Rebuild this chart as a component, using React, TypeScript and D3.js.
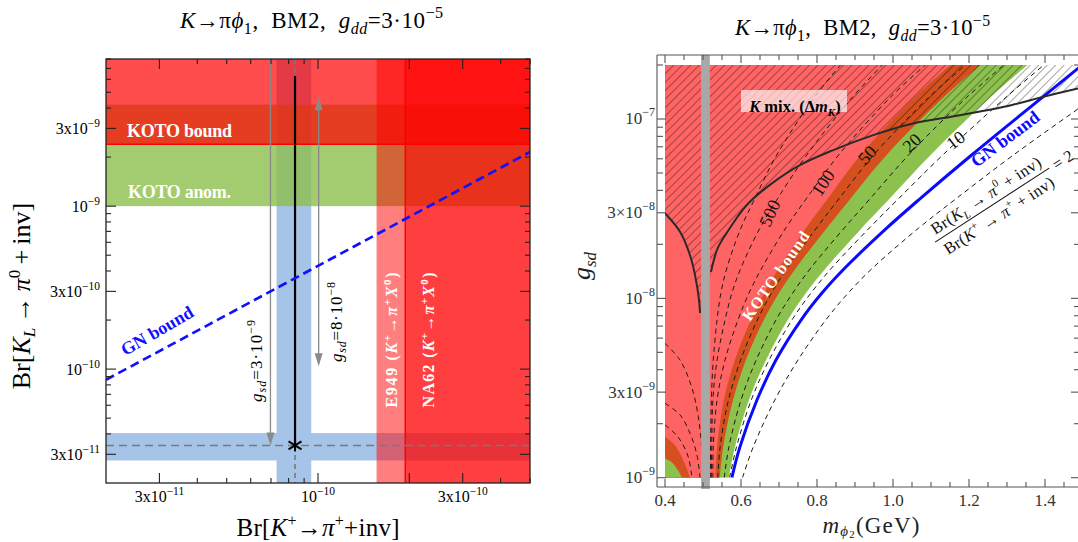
import React from "react";
import * as d3 from "d3";

// ---------- left panel: Br(K_L -> pi0 inv) vs Br(K+ -> pi+ inv) ----------
const brKpDomain = [2e-11, 5e-10];
const brKLDomain = [2e-11, 8e-9];
const brKpTicks = [3e-11, 1e-10, 3e-10];
const brKpTickText = [["3x10", "−11"], ["10", "−10"], ["3x10", "−10"]];
const brKLTicks = [3e-11, 1e-10, 3e-10, 1e-9, 3e-9];
const brKLTickText = [["3x10", "−11"], ["10", "−10"], ["3x10", "−10"], ["10", "−9"], ["3x10", "−9"]];
const kotoBound = 2.4e-9;
const kotoAnomaly = [1.0e-9, 4.2e-9];
const e949Bound = 1.56e-10;
const na62Bound = 1.94e-10;
const gnLine = [[2e-11, 8.6e-11], [5e-10, 2.15e-9]];
const benchmark = [8.4e-11, 3.4e-11];
const benchKpBand = [7.3e-11, 9.5e-11];
const benchKLBand = [2.75e-11, 4.05e-11];
const benchLineTop = 6.3e-9;
const arrowLowG = { br: 6.97e-11, from: 8e-9, to: 3.4e-11 };
const arrowHighG = { br: 1.005e-10, from: 4.66e-9, to: 1.04e-10 };

// ---------- right panel: g_sd vs m_phi2 ----------
const massTicks = [0.4, 0.6, 0.8, 1.0, 1.2, 1.4];
const massTickText = ["0.4", "0.6", "0.8", "1.0", "1.2", "1.4"];
const gsdTicks = [1e-9, 3e-9, 1e-8, 3e-8, 1e-7];
const gsdTickText = [["10", "−9"], ["3x10", "−9"], ["10", "−8"], ["3×10", "−8"], ["10", "−7"]];
// couplings at which the boundary masses below are read
const gLevels = [1e-9, 1.48e-9, 2.71e-9, 4.53e-9, 7.57e-9, 1.07e-8, 1.48e-8, 2.47e-8, 3.62e-8, 6.3e-8, 1.32e-7, 2e-7];
const mKotoBound = [0.533, 0.537, 0.555, 0.584, 0.626, 0.661, 0.7, 0.771, 0.829, 0.915, 1.056, 1.151];
const mKotoOverlap = [0.544, 0.553, 0.579, 0.613, 0.66, 0.7, 0.745, 0.826, 0.889, 0.983, 1.133, 1.23];
const mKotoAnomaly = [0.568, 0.584, 0.621, 0.666, 0.723, 0.771, 0.824, 0.918, 0.992, 1.099, 1.256, 1.354];
const mGN = [0.576, 0.597, 0.642, 0.692, 0.758, 0.813, 0.874, 0.984, 1.073, 1.207, 1.393, 1.498];
const mRatio2 = [0.604, 0.632, 0.689, 0.75, 0.823, 0.882, 0.947, 1.068, 1.168, 1.317, 1.53, 1.651];
const mRatio10 = [0.57, 0.588, 0.627, 0.674, 0.734, 0.784, 0.839, 0.938, 1.016, 1.131, 1.297, 1.397];
const mRatio20 = [0.556, 0.568, 0.6, 0.64, 0.692, 0.736, 0.784, 0.872, 0.941, 1.041, 1.194, 1.292];
const mRatio50 = [0.539, 0.545, 0.567, 0.599, 0.643, 0.68, 0.722, 0.799, 0.859, 0.949, 1.094, 1.191];
const mRatio100 = [0.526, 0.527, 0.537, 0.558, 0.592, 0.621, 0.655, 0.718, 0.773, 0.857, 0.993, 1.085];
const mRatio500 = [0.522, 0.523, 0.526, 0.537, 0.558, 0.576, 0.6, 0.65, 0.697, 0.773, 0.893, 0.972];
const mRatio1000 = [0.519, 0.52, 0.522, 0.527, 0.537, 0.547, 0.563, 0.6, 0.637, 0.694, 0.793, 0.862];
const cornerOrange = [[0.4, 1.69e-9], [0.426, 1.52e-9], [0.445, 1.29e-9], [0.457, 1.13e-9], [0.466, 1e-9]];
const cornerGreen = [[0.4, 1.28e-9], [0.418, 1.22e-9], [0.434, 1.1e-9], [0.445, 1e-9]];
const leftDashed1 = [[0.4, 5.61e-9], [0.4395, 4.53e-9], [0.47, 3.21e-9], [0.4876, 2.19e-9], [0.497, 1.43e-9], [0.5, 1e-9]];
const leftDashed2 = [[0.4, 2.6e-9], [0.4395, 2.24e-9], [0.4658, 1.77e-9], [0.484, 1.34e-9], [0.492, 1e-9]];
const leftDashed3 = [[0.4, 1.97e-9], [0.434, 1.69e-9], [0.4605, 1.32e-9], [0.471, 1e-9]];
const kMixLeft = [[0.4, 2.98e-8], [0.4395, 2.35e-8], [0.4658, 1.74e-8], [0.479, 1.35e-8], [0.4895, 9.8e-9], [0.492, 8.28e-9]];
const kMixCusp = [0.506, 7.0e-9];
const kMixRight = [[0.521, 1.4e-8], [0.527, 1.59e-8], [0.539, 1.91e-8], [0.562, 2.31e-8], [0.615, 3.31e-8], [0.676, 4.29e-8],
  [0.755, 5.53e-8], [0.843, 6.71e-8], [0.948, 8.13e-8], [1.053, 9.44e-8], [1.176, 1.05e-7], [1.308, 1.19e-7], [1.396, 1.33e-7], [1.487, 1.48e-7]];
const kaonBand = [0.495, 0.518];
const ratioLabels = [
  { text: "500", m: 0.676, g: 2.98e-8, angle: -66 },
  { text: "100", m: 0.816, g: 4.4e-8, angle: -56 },
  { text: "50", m: 0.932, g: 6.3e-8, angle: -47 },
  { text: "20", m: 1.05, g: 7.35e-8, angle: -43 },
  { text: "10", m: 1.165, g: 7.62e-8, angle: -38 },
];

const serif = "'Liberation Serif', 'Times New Roman', serif";
const L = { left: 106, right: 530, top: 59, bottom: 483 };
const R = { left: 657, right: 1080, top: 55, bottom: 487 };

const xL = d3.scaleLog().domain(brKpDomain).range([L.left, L.right]);
const yL = d3.scaleLog().domain(brKLDomain).range([L.bottom, L.top]);
const xR = d3.scaleLinear().domain([0.4, 1.4]).range([665, 1045]);
const yR = d3.scaleLog().domain([1e-9, 2e-7]).range([477.7, 65]);

const lineR = d3.line<number[]>().x(d => xR(d[0])).y(d => yR(d[1])).curve(d3.curveCatmullRom.alpha(0.5));
const lineL = d3.line<number[]>().x(d => xL(d[0])).y(d => yL(d[1]));
const onLevels = (ms: number[]) => ms.map((m, i) => [m, gLevels[i]]);

function logTickList(lo: number, hi: number) {
  const out: { v: number; k: number }[] = [];
  for (let e = -12; e <= -6; e++)
    for (let k = 1; k <= 9; k++) {
      const v = k * Math.pow(10, e);
      if (v >= lo * 0.999 && v <= hi * 1.001) out.push({ v, k });
    }
  return out;
}

const Title = ({ x, y, size, len }: { x: number; y: number; size: number; len: number }) => (
  <text x={x} y={y} fontSize={size} textAnchor="middle" textLength={len}>
    <tspan fontStyle="italic">K</tspan>→π<tspan fontStyle="italic">ϕ</tspan>
    <tspan fontSize={size * 0.7} dy={size * 0.25}>1</tspan>
    <tspan dy={-size * 0.25}>,{"\u00a0 "}BM2,{"\u00a0 "}</tspan>
    <tspan fontStyle="italic">g</tspan>
    <tspan fontStyle="italic" fontSize={size * 0.7} dy={size * 0.25}>dd</tspan>
    <tspan dy={-size * 0.25}>=3·10</tspan>
    <tspan fontSize={size * 0.7} dy={-size * 0.42}>−5</tspan>
  </text>
);

function LeftPanel() {
  const xTicks = logTickList(brKpDomain[0] * 1.01, brKpDomain[1]);
  const yTicks = logTickList(brKLDomain[0] * 1.01, brKLDomain[1]);
  const bx = xL(benchmark[0]);
  const by = yL(benchmark[1]);
  const head = (x: number, tip: number, dir: number) =>
    `M${x},${tip}L${x - 4},${tip - dir * 13}L${x + 4},${tip - dir * 13}Z`;
  return (
    <g>
      <defs>
        <clipPath id="clipL">
          <rect x={L.left} y={L.top} width={L.right - L.left} height={L.bottom - L.top} />
        </clipPath>
      </defs>
      <g clipPath="url(#clipL)">
        <rect x={xL(benchKpBand[0])} y={L.top} width={xL(benchKpBand[1]) - xL(benchKpBand[0])} height={L.bottom - L.top} fill="#a6c4e8" />
        <rect x={L.left} y={yL(benchKLBand[1])} width={L.right - L.left} height={yL(benchKLBand[0]) - yL(benchKLBand[1])} fill="#a6c4e8" />
        <rect x={L.left} y={yL(kotoAnomaly[1])} width={L.right - L.left} height={yL(kotoAnomaly[0]) - yL(kotoAnomaly[1])} fill="rgb(140,190,75)" fillOpacity={0.8} />
        <rect x={xL(e949Bound)} y={L.top} width={L.right - xL(e949Bound)} height={L.bottom - L.top} fill="#ff0000" fillOpacity={0.5} />
        <rect x={xL(na62Bound)} y={L.top} width={L.right - xL(na62Bound)} height={L.bottom - L.top} fill="#ff0000" fillOpacity={0.5} />
        <rect x={L.left} y={L.top} width={L.right - L.left} height={yL(kotoBound) - L.top} fill="#ff0000" fillOpacity={0.7} />
        <line x1={L.left} x2={L.right} y1={yL(kotoBound)} y2={yL(kotoBound)} stroke="#ff0000" strokeWidth={1.5} />
        <line x1={xL(na62Bound)} x2={xL(na62Bound)} y1={L.top} y2={L.bottom} stroke="#ff0000" strokeWidth={1.5} />

        {/* g_sd arrows */}
        <g stroke="#8a8a8a" fill="#8a8a8a" strokeWidth={1.3}>
          <line x1={xL(arrowLowG.br)} x2={xL(arrowLowG.br)} y1={yL(arrowLowG.from)} y2={yL(arrowLowG.to) - 8} />
          <path d={head(xL(arrowLowG.br), yL(arrowLowG.to), 1)} stroke="none" />
          <line x1={xL(arrowHighG.br)} x2={xL(arrowHighG.br)} y1={yL(arrowHighG.from) + 8} y2={yL(arrowHighG.to) - 8} />
          <path d={head(xL(arrowHighG.br), yL(arrowHighG.from), -1)} stroke="none" />
          <path d={head(xL(arrowHighG.br), yL(arrowHighG.to), 1)} stroke="none" />
        </g>

        <line x1={L.left} x2={L.right} y1={by} y2={by} stroke="#7a7a7a" strokeWidth={1.6} strokeDasharray="8,5" />
        <line x1={bx} x2={bx} y1={L.top} y2={L.bottom} stroke="#7a7a7a" strokeWidth={1.6} strokeDasharray="5,4" />
        <line x1={bx} x2={bx} y1={yL(benchLineTop)} y2={by} stroke="#000" strokeWidth={2.2} />
        <g stroke="#000" strokeWidth={2}>
          <line x1={bx - 6.5} x2={bx + 6.5} y1={by - 4} y2={by + 4} />
          <line x1={bx - 6.5} x2={bx + 6.5} y1={by + 4} y2={by - 4} />
          <line x1={bx} x2={bx} y1={by - 6} y2={by + 6} />
        </g>

        <path d={lineL(gnLine) || ""} stroke="#1010ff" strokeWidth={2.6} strokeDasharray="9,5" fill="none" />
      </g>

      {/* labels */}
      <g fontWeight="bold" fill="#fff" fontSize={18}>
        <text x={L.left + 21} y={137} textLength={105}>KOTO bound</text>
        <text x={L.left + 22} y={198} textLength={103}>KOTO anom.</text>
      </g>
      <text transform="translate(160,336) rotate(-30)" textAnchor="middle" fontSize={18} fontWeight="bold" fill="#1010ff">GN bound</text>
      <text transform="translate(262,361) rotate(-90)" textAnchor="middle" fontSize={17} textLength={82}>
        <tspan fontStyle="italic">g</tspan>
        <tspan fontStyle="italic" fontSize={12} dy={4}>sd</tspan>
        <tspan dy={-4}>=3·10</tspan>
        <tspan fontSize={12} dy={-7}>−9</tspan>
      </text>
      <text transform="translate(342,322) rotate(-90)" textAnchor="middle" fontSize={17} textLength={80}>
        <tspan fontStyle="italic">g</tspan>
        <tspan fontStyle="italic" fontSize={12} dy={4}>sd</tspan>
        <tspan dy={-4}>=8·10</tspan>
        <tspan fontSize={12} dy={-7}>−8</tspan>
      </text>
      {[{ name: "E949", x: 397 }, { name: "NA62", x: 434 }].map(d => (
        <text key={d.name} transform={`translate(${d.x},340) rotate(-90)`} textAnchor="middle" fontSize={16} fontWeight="bold" fill="#fff" textLength={135}>
          {d.name} (<tspan fontStyle="italic">K</tspan>
          <tspan fontSize={11} dy={-6}>+</tspan>
          <tspan dy={6}>→</tspan>
          <tspan fontStyle="italic">π</tspan>
          <tspan fontSize={11} dy={-6}>+</tspan>
          <tspan fontStyle="italic" dy={6}>X</tspan>
          <tspan fontSize={11} dy={-6}>0</tspan>
          <tspan dy={6}>)</tspan>
        </text>
      ))}

      {/* frame and ticks */}
      <rect x={L.left} y={L.top} width={L.right - L.left} height={L.bottom - L.top} fill="none" stroke="#222" strokeWidth={1.3} />
      <g stroke="#222" strokeWidth={1.1}>
        {xTicks.map(t => {
          const len = t.k <= 3 ? 10 : 5;
          const x = xL(t.v);
          return (
            <g key={"xt" + t.v}>
              <line x1={x} x2={x} y1={L.bottom} y2={L.bottom - len} />
              <line x1={x} x2={x} y1={L.top} y2={L.top + len} />
            </g>
          );
        })}
        {yTicks.map(t => {
          const len = t.k === 1 || t.k === 3 ? 10 : 5;
          const y = yL(t.v);
          return (
            <g key={"yt" + t.v}>
              <line x1={L.left} x2={L.left + len} y1={y} y2={y} />
              <line x1={L.right} x2={L.right - len} y1={y} y2={y} />
            </g>
          );
        })}
      </g>
      {brKpTicks.map((v, i) => (
        <text key={"xl" + v} x={xL(v)} y={502} textAnchor="middle" fontSize={16}>
          {brKpTickText[i][0]}
          <tspan fontSize={11.5} dy={-7}>{brKpTickText[i][1]}</tspan>
        </text>
      ))}
      {brKLTicks.map((v, i) => (
        <text key={"yl" + v} x={100} y={yL(v) + 5.5} textAnchor="end" fontSize={16}>
          {brKLTickText[i][0]}
          <tspan fontSize={11.5} dy={-7}>{brKLTickText[i][1]}</tspan>
        </text>
      ))}
      <text x={318} y={536} textAnchor="middle" fontSize={25} textLength={163}>
        Br[<tspan fontStyle="italic">K</tspan>
        <tspan fontSize={16} dy={-10}>+</tspan>
        <tspan dy={10}>→</tspan>
        <tspan fontStyle="italic">π</tspan>
        <tspan fontSize={16} dy={-10}>+</tspan>
        <tspan dy={10}>+inv]</tspan>
      </text>
      <text transform="translate(30,296) rotate(-90)" textAnchor="middle" fontSize={26}>
        Br[<tspan fontStyle="italic">K</tspan>
        <tspan fontStyle="italic" fontSize={17} dy={5}>L</tspan>
        <tspan dy={-5}>{"\u2009"}→{"\u2009"}</tspan>
        <tspan fontStyle="italic">π</tspan>
        <tspan fontSize={17} dy={-10}>0</tspan>
        <tspan dy={10}>{"\u2009"}+{"\u2009"}inv]</tspan>
      </text>
      <Title x={311.5} y={28} size={23} len={263} />
    </g>
  );
}

function RightPanel() {
  const x0 = xR(0.4);
  const yTop = yR(2e-7);
  const yBot = yR(1e-9);
  const region = (ms: number[]) => `${lineR(onLevels(ms))}L${x0},${yTop}L${x0},${yBot}Z`;
  const corner = (pts: number[][]) => `${lineR(pts)}L${x0},${yBot}Z`;
  const hatch = `${lineR([...kMixLeft, kMixCusp, ...kMixRight])}L${R.right},${yR(1.48e-7)}L${R.right},${yTop}L${x0},${yTop}Z`;
  const massMinor = d3.range(0, 22).map(i => 0.4 + i * 0.05);
  const gTicks = logTickList(1e-9, 2e-7);
  const dashedSets = [mRatio1000, mRatio500, mRatio100, mRatio50, mRatio20, mRatio10, mRatio2];
  return (
    <g>
      <defs>
        <clipPath id="clipR">
          <rect x={x0} y={yTop} width={R.right - x0} height={yBot - yTop} />
        </clipPath>
        <pattern id="hatch" width={6} height={6} patternUnits="userSpaceOnUse" patternTransform="rotate(45)">
          <line x1={0} y1={0} x2={0} y2={6} stroke="#000" strokeOpacity={0.7} strokeWidth={1} />
        </pattern>
      </defs>
      <g clipPath="url(#clipR)">
        <path d={region(mKotoAnomaly)} fill="#8dc14d" />
        <path d={region(mKotoOverlap)} fill="#d5501e" />
        <path d={region(mKotoBound)} fill="#ff6464" />
        <path d={corner(cornerOrange)} fill="#d5501e" />
        <path d={corner(cornerGreen)} fill="#8dc14d" />
        <path d={hatch} fill="url(#hatch)" />
        <g fill="none" stroke="#1a1a1a" strokeWidth={1} strokeDasharray="5,4">
          {dashedSets.map((ms, i) => <path key={"c" + i} d={lineR(onLevels(ms)) || ""} />)}
          {[leftDashed1, leftDashed2, leftDashed3].map((pts, i) => <path key={"l" + i} d={lineR(pts) || ""} />)}
        </g>
        <path d={lineR(onLevels(mGN)) || ""} fill="none" stroke="#0a0aff" strokeWidth={3} />
        <g fill="none" stroke="#2a2a2a" strokeWidth={2}>
          <path d={lineR(kMixLeft) || ""} />
          <path d={lineR(kMixRight) || ""} />
        </g>
      </g>
      <rect x={xR(kaonBand[0])} y={R.top} width={xR(kaonBand[1]) - xR(kaonBand[0])} height={489 - R.top} fill="#a8a8a8" />

      {/* labels */}
      <rect x={xR(0.6)} y={yR(1.45e-7)} width={106} height={22} fill="#fff" fillOpacity={0.65} />
      <text x={xR(0.742)} y={yR(1.18e-7) + 6} textAnchor="middle" fontSize={16.5} fontWeight="bold">
        <tspan fontStyle="italic">K</tspan> mix. (Δ<tspan fontStyle="italic">m</tspan>
        <tspan fontStyle="italic" fontSize={11} dy={4}>K</tspan>
        <tspan dy={-4}>)</tspan>
      </text>
      <text transform={`translate(${xR(0.692)},${yR(1.33e-8)}) rotate(-55)`} textAnchor="middle" dy={5} fontSize={16} fontWeight="bold" fill="#fff" textLength={105}>KOTO bound</text>
      {ratioLabels.map(d => (
        <text key={d.text} transform={`translate(${xR(d.m)},${yR(d.g)}) rotate(${d.angle})`} textAnchor="middle" dy={6} fontSize={18} fill="#111">{d.text}</text>
      ))}
      <text transform={`translate(${xR(1.295)},${yR(7.73e-8)}) rotate(-37)`} textAnchor="middle" dy={6} fontSize={18} fontWeight="bold" fill="#0a0aff">GN bound</text>
      <g transform={`translate(${xR(1.261)},${yR(3.31e-8)}) rotate(-33)`} fontSize={16.5} fill="#111">
        <text y={-6} textAnchor="middle" textLength={128}>
          Br(<tspan fontStyle="italic">K</tspan>
          <tspan fontStyle="italic" fontSize={11} dy={4}>L</tspan>
          <tspan dy={-4}> → </tspan>
          <tspan fontStyle="italic">π</tspan>
          <tspan fontSize={11} dy={-7}>0</tspan>
          <tspan dy={7}> + inv)</tspan>
        </text>
        <line x1={-68} x2={68} y1={0} y2={0} stroke="#111" strokeWidth={1} />
        <text y={18} textAnchor="middle" textLength={128}>
          Br(<tspan fontStyle="italic">K</tspan>
          <tspan fontSize={11} dy={-7}>+</tspan>
          <tspan dy={7}> → </tspan>
          <tspan fontStyle="italic">π</tspan>
          <tspan fontSize={11} dy={-7}>+</tspan>
          <tspan dy={7}> + inv)</tspan>
        </text>
        <text x={73} y={6}>= 2</text>
      </g>

      {/* frame and ticks */}
      <g stroke="#555" strokeWidth={1.1} fill="none">
        <line x1={R.left} x2={R.left} y1={R.top} y2={R.bottom} />
        <line x1={R.left} x2={R.right} y1={R.bottom} y2={R.bottom} />
        <line x1={R.left} x2={R.right} y1={R.top} y2={R.top} />
        <line x1={R.right} x2={R.right} y1={R.top} y2={R.bottom} />
        {massMinor.map((m, i) => {
          const len = i % 4 === 0 ? 8 : 5;
          return (
            <g key={"mt" + i}>
              <line x1={xR(m)} x2={xR(m)} y1={R.bottom} y2={R.bottom - len} />
              <line x1={xR(m)} x2={xR(m)} y1={R.top} y2={R.top + len} />
            </g>
          );
        })}
        {gTicks.map(t => {
          const len = t.k === 1 || t.k === 3 ? 9 : 6;
          const y = yR(t.v);
          return (
            <g key={"gt" + t.v}>
              <line x1={R.left} x2={R.left + len} y1={y} y2={y} />
              <line x1={R.right} x2={R.right - len} y1={y} y2={y} />
            </g>
          );
        })}
      </g>
      {massTicks.map((m, i) => (
        <text key={"ml" + m} x={xR(m)} y={506} textAnchor="middle" fontSize={17} fill="#333">{massTickText[i]}</text>
      ))}
      {gsdTicks.map((v, i) => (
        <text key={"gl" + v} x={655} y={yR(v) + 5.5} textAnchor="end" fontSize={17} fill="#333">
          {gsdTickText[i][0]}
          <tspan fontSize={12} dy={-8}>{gsdTickText[i][1]}</tspan>
        </text>
      ))}
      <text x={871} y={533} textAnchor="middle" fontSize={23} fill="#222" textLength={97}>
        <tspan fontStyle="italic">m</tspan>
        <tspan fontStyle="italic" fontSize={15} dy={3}>ϕ</tspan>
        <tspan fontSize={11} dy={2}>2</tspan>
        <tspan dy={-5}>(GeV)</tspan>
      </text>
      <text transform="translate(590,266) rotate(-90)" textAnchor="middle" fontSize={26} fill="#222">
        <tspan fontStyle="italic">g</tspan>
        <tspan fontStyle="italic" fontSize={17} dy={6}>sd</tspan>
      </text>
      <Title x={862.5} y={35} size={22.5} len={255} />
    </g>
  );
}

export default function App() {
  return (
    <svg width={1078} height={542} fontFamily={serif} style={{ position: "absolute", left: 0, top: 0, background: "#fff" }}>
      <rect width={1078} height={542} fill="#fff" />
      <LeftPanel />
      <RightPanel />
    </svg>
  );
}
